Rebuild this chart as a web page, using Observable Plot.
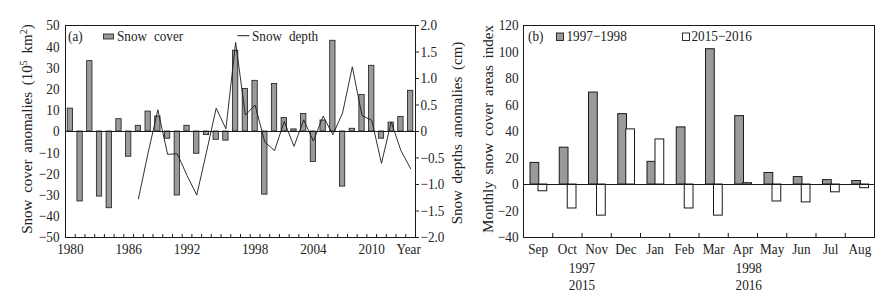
<!DOCTYPE html>
<html><head><meta charset="utf-8">
<script src="https://cdn.jsdelivr.net/npm/d3@7"></script>
<script src="https://cdn.jsdelivr.net/npm/@observablehq/plot@0.6"></script>
<style>
body{margin:0;background:#fff;}
#wrap{display:flex;width:895px;height:297px;overflow:hidden;}
svg{display:block}
</style></head><body><div id="wrap"></div>
<script>
// ---------- Panel (a) data ----------
const years = d3.range(1980, 2016);
const coverAnomaly = [10.8, -33, 33.2, -30.7, -36.2, 5.8, -11.9, 2.7, 9.4, 7.1, -3.4, -30.2, 2.7, -10.5, -1.7, -3.9, -4.3, 38.1, 20.1, 23.9, -29.8, 22.4, 6.4, 1.0, 8.3, -14.4, 5.2, 42.8, -26, 1.3, 17.2, 31, -3.4, 4.2, 6.9, 19.2];
const depthYears = d3.range(1987, 2016);
const depthAnomaly = [-1.27, -0.4, 0.41, -0.43, -0.42, -0.83, -1.2, -0.39, 0.44, 0.05, 1.68, 0.31, 0.5, -0.2, -0.36, 0.19, -0.28, 0.22, -0.18, 0.29, -0.06, 0.35, 1.22, 0.3, 0.21, -0.6, 0.18, -0.36, -0.7];
const coverTicks = [-50, -40, -30, -20, -10, 0, 10, 20, 30, 40, 50];
const depthTicks = [-2, -1.5, -1, -0.5, 0, 0.5, 1, 1.5, 2];
const xLabelYears = [1980, 1986, 1992, 1999, 2005, 2011, 2014.8];
const xLabels = ["1980", "1986", "1992", "1998", "2004", "2010", "Year"];

// ---------- Panel (b) data ----------
const months = ["Sep", "Oct", "Nov", "Dec", "Jan", "Feb", "Mar", "Apr", "May", "Jun", "Jul", "Aug"];
const index1997 = [16.3, 27.8, 69.4, 53.1, 17.1, 43.1, 102.1, 51.6, 8.7, 5.6, 3.3, 2.6];
const index2015 = [-5.1, -18.1, -23.5, 41.6, 34.0, -18.1, -23.5, 1.0, -12.8, -13.5, -5.9, -2.8];
const indexTicks = [-40, -20, 0, 20, 40, 60, 80, 100, 120];
const seasonStart = ["1997", "2015"];
const seasonEnd = ["1998", "2016"];

const FONT = "'Liberation Serif', 'Times New Roman', serif";
const INK = "#1a1a1a";
const TXT = "#222";
const GRAY = "#9a9a9a";
const ratio = 25; // 2.0 cm on the right axis <-> 50 on the left axis
const minus = v => v < 0 ? "\u2212" + Math.abs(v) : String(v);
const fmtDepth = v => v === 0 ? "0" : (v < 0 ? "\u2212" : "") + Math.abs(v).toFixed(1);

const cover = years.map((y, i) => ({year: y, v: coverAnomaly[i]}));
const depth = depthYears.map((y, i) => ({year: y, v: depthAnomaly[i]}));
const monthly = months.map((m, i) => ({i, m, a: index1997[i], b: index2015[i]}));

const wrap = document.getElementById("wrap");

const plotA = Plot.plot({
  width: 470, height: 297,
  marginLeft: 65, marginRight: 55, marginTop: 25, marginBottom: 60,
  style: {fontFamily: FONT, fontSize: "15px", color: TXT, background: "white", overflow: "visible"},
  x: {domain: [1979.5, 2015.5]},
  y: {domain: [-50, 50]},
  marks: [
    Plot.rect(cover, {x1: d => d.year - 0.5, x2: d => d.year + 0.5, y1: 0, y2: "v",
      insetLeft: 2.2, insetRight: 2.2, fill: GRAY, stroke: INK, strokeWidth: 0.8}),
    Plot.ruleY([0], {stroke: INK, strokeWidth: 1.2}),
    Plot.line(depth, {x: "year", y: d => d.v * ratio, stroke: INK, strokeWidth: 0.9}),
    Plot.ruleX(years.slice(0, -1), {x: d => d + 0.5, y1: -50, y2: -50 + 3 * 100 / 212, stroke: INK}),
    Plot.axisY({anchor: "left", ticks: coverTicks, tickSize: 0, tickPadding: 6, tickFormat: minus, label: null}),
    Plot.axisY({anchor: "right", ticks: depthTicks.map(v => v * ratio), tickSize: 3, tickPadding: 2,
      tickFormat: v => fmtDepth(v / ratio), label: null}),
    Plot.axisX({anchor: "bottom", ticks: xLabelYears, tickFormat: d => xLabels[xLabelYears.indexOf(d)],
      tickSize: 0, tickPadding: 6, label: null}),
    Plot.frame({stroke: INK})
  ]
});

const plotB = Plot.plot({
  width: 425, height: 297,
  marginLeft: 53, marginRight: 21, marginTop: 25, marginBottom: 60,
  style: {fontFamily: FONT, fontSize: "15px", color: TXT, background: "white", overflow: "visible"},
  x: {domain: [-0.5, 11.5]},
  y: {domain: [-40, 120]},
  marks: [
    Plot.rect(monthly, {x1: d => d.i - 0.5, x2: d => d.i + 0.5, y1: 0, y2: "a",
      insetLeft: 7, insetRight: 13.5, fill: GRAY, stroke: INK, strokeWidth: 1}),
    Plot.rect(monthly, {x1: d => d.i - 0.5, x2: d => d.i + 0.5, y1: 0, y2: "b",
      insetLeft: 15, insetRight: 5.5, fill: "white", stroke: INK, strokeWidth: 1}),
    Plot.ruleY([0], {stroke: INK, strokeWidth: 1.2}),
    Plot.ruleX(months.slice(0, -1), {x: (d, i) => i + 0.5, y1: -40, y2: -40 + 4 / 1.319, stroke: INK}),
    Plot.axisY({anchor: "left", ticks: indexTicks, tickSize: 0, tickPadding: 5, tickFormat: minus, label: null}),
    Plot.axisX({anchor: "bottom", ticks: monthly.map(d => d.i), tickFormat: i => months[i],
      tickSize: 0, tickPadding: 6, label: null}),
    Plot.text([seasonStart.join("\n"), seasonEnd.join("\n")], {
      x: (d, i) => i === 0 ? 1.5 : 7.2, text: d => d, frameAnchor: "bottom", lineAnchor: "top",
      dy: 24, lineHeight: 1.1, fill: TXT, fontSize: 15}),
    Plot.frame({stroke: INK})
  ]
});

wrap.appendChild(plotA);
wrap.appendChild(plotB);

// ---------- legends & axis titles ----------
function addText(svg, x, y, parts, opts = {}) {
  const t = d3.select(svg).append("text")
    .attr("font-family", FONT).attr("font-size", 15).attr("fill", TXT)
    .attr("text-anchor", opts.anchor || "start");
  if (opts.rotate) t.attr("transform", `translate(${x},${y}) rotate(${opts.rotate})`).attr("dy", "0.35em");
  else t.attr("x", x).attr("y", y);
  if (opts.wordSpacing) t.style("word-spacing", opts.wordSpacing + "px");
  for (const p of parts) {
    if (typeof p === "string") t.append("tspan").text(p);
    else t.append("tspan").attr("baseline-shift", "super").attr("font-size", 10).text(p.sup);
  }
  return t;
}
const sa = plotA, sb = plotB;
// panel a legend
addText(sa, 68, 41, ["(a)"]);
d3.select(sa).append("rect").attr("x", 103.5).attr("y", 34).attr("width", 10).attr("height", 5)
  .attr("fill", GRAY).attr("stroke", INK).attr("stroke-width", 0.8);
addText(sa, 117, 41, ["Snow cover"], {wordSpacing: 4});
d3.select(sa).append("line").attr("x1", 237.5).attr("x2", 249.5).attr("y1", 35.7).attr("y2", 35.7)
  .attr("stroke", INK).attr("stroke-width", 1);
addText(sa, 252, 41, ["Snow depth"], {wordSpacing: 4});
addText(sa, 26.5, 129, ["Snow cover anomalies (10", {sup: "5"}, " km", {sup: "2"}, ")"], {anchor: "middle", rotate: -90, wordSpacing: 3});
addText(sa, 456.5, 133, ["Snow depths anomalies (cm)"], {anchor: "middle", rotate: -90, wordSpacing: 3});
// panel b legend
addText(sb, 58, 41, ["(b)"]);
d3.select(sb).append("rect").attr("x", 86.5).attr("y", 33).attr("width", 7).attr("height", 7.5)
  .attr("fill", GRAY).attr("stroke", INK).attr("stroke-width", 0.9);
addText(sb, 96.5, 41, ["1997\u22121998"]);
d3.select(sb).append("rect").attr("x", 212.5).attr("y", 33).attr("width", 7).attr("height", 7.5)
  .attr("fill", "white").attr("stroke", INK).attr("stroke-width", 0.9);
addText(sb, 221.5, 41, ["2015\u22122016"]);
addText(sb, 17.5, 129, ["Monthly snow cover areas index"], {anchor: "middle", rotate: -90, wordSpacing: 3});

// ---------- horizontal squeeze of upright text (reference glyphs are narrow) ----------
const SQUEEZE = 0.88;
for (const svg of [sa, sb]) {
  svg.querySelectorAll("text").forEach(t => {
    const tr = t.getAttribute("transform") || "";
    if (tr.includes("rotate")) return;
    const spans = Array.from(t.children).filter(c => c.tagName === "tspan");
    const targets = spans.length && spans.every(s => s.hasAttribute("x")) ? spans : [t];
    targets.forEach(el => {
      const len = el.getComputedTextLength();
      if (len > 0) {
        el.setAttribute("textLength", (len * SQUEEZE).toFixed(2));
        el.setAttribute("lengthAdjust", "spacingAndGlyphs");
      }
    });
  });
}
</script></body></html>
